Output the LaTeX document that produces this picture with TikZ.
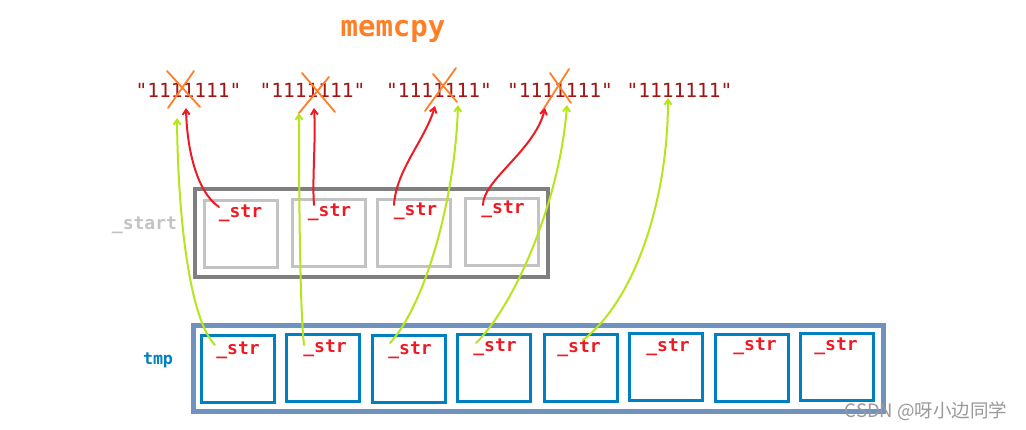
\documentclass[tikz,border=0pt]{standalone}
\usepackage{fontspec}
\setmonofont{DejaVu Sans Mono}
\newfontfamily\cjkwm{Noto Sans CJK SC}
\usetikzlibrary{arrows.meta}
\definecolor{strred}{HTML}{ED1C24}
\definecolor{darkred}{HTML}{A31515}
\definecolor{orng}{HTML}{FF7F27}
\definecolor{lime}{HTML}{B5E61D}
\definecolor{gin}{HTML}{C3C3C3}
\definecolor{gout}{HTML}{7F7F7F}
\definecolor{bin}{HTML}{0080C0}
\definecolor{bout}{HTML}{7092BE}
\tikzset{
  strlbl/.style={anchor=base, inner sep=0pt, text=strred, font=\ttfamily\bfseries\fontsize{18pt}{18pt}\selectfont},
  onestr/.style={anchor=base, inner sep=0pt, text=darkred, font=\ttfamily\fontsize{19.5pt}{19.5pt}\selectfont},
  gbox/.style={draw=gin, line width=3pt, minimum width=73pt, minimum height=67pt, inner sep=0pt},
  bbox/.style={draw=bin, line width=3pt, minimum width=73pt, minimum height=67pt, inner sep=0pt},
  redarr/.style={draw=strred, line width=2pt, line cap=round, -{Straight Barb[length=5pt,width=7pt]}},
  grnarr/.style={draw=lime, line width=2pt, line cap=round, -{Straight Barb[length=5pt,width=7pt]}},
  cross/.style={draw=orng, line width=1.8pt, line cap=round},
}
\begin{document}
\begin{tikzpicture}[x=1pt,y=-1pt]
\useasboundingbox[fill=white] (0,0) rectangle (1026,430);

% title
\node[anchor=base, inner sep=0pt, text=orng, font=\ttfamily\bfseries\fontsize{29pt}{29pt}\selectfont] (title) at (393,37) {memcpy};

% strings
\node[onestr] (s1) at (188.5,98) {"1111111"};
\node[onestr] (s2) at (312.5,98) {"1111111"};
\node[onestr] (s3) at (439,98) {"1111111"};
\node[onestr] (s4) at (560,98) {"1111111"};
\node[onestr] (s5) at (679.5,98) {"1111111"};

% _start array
\node[draw=gout, line width=4.5pt, minimum width=353pt, minimum height=88pt, inner sep=0pt] (start) at (371.5,233) {};
\node[gbox] (g1) at (241,234) {};
\node[gbox] (g2) at (329,233.5) {};
\node[gbox] (g3) at (414,233.5) {};
\node[gbox] (g4) at (501.5,232) {};
\node[strlbl] (gs1) at (240.5,218) {\_str};
\node[strlbl] (gs2) at (329.5,217) {\_str};
\node[strlbl] (gs3) at (415.5,216) {\_str};
\node[strlbl] (gs4) at (503,214) {\_str};
\node[anchor=base, inner sep=0pt, text=gin, font=\ttfamily\bfseries\fontsize{18pt}{18pt}\selectfont] (startlbl) at (144.5,230) {\_start};

% tmp array
\node[draw=bout, line width=5pt, minimum width=690pt, minimum height=86pt, inner sep=0pt] (tmp) at (538.5,368.5) {};
\node[bbox] (b1) at (238,369) {};
\node[bbox] (b2) at (323,368) {};
\node[bbox] (b3) at (408.5,369) {};
\node[bbox] (b4) at (493.5,368) {};
\node[bbox] (b5) at (580.5,368) {};
\node[bbox] (b6) at (666,367) {};
\node[bbox] (b7) at (752,368) {};
\node[bbox] (b8) at (837,367) {};
\node[strlbl] (bs1) at (238,355) {\_str};
\node[strlbl] (bs2) at (325,353) {\_str};
\node[strlbl] (bs3) at (410,355) {\_str};
\node[strlbl] (bs4) at (495,352) {\_str};
\node[strlbl] (bs5) at (579,353) {\_str};
\node[strlbl] (bs6) at (668,352) {\_str};
\node[strlbl] (bs7) at (755,351) {\_str};
\node[strlbl] (bs8) at (836,351) {\_str};
\node[anchor=base, inner sep=0pt, text=bin, font=\ttfamily\bfseries\fontsize{16.6pt}{16.6pt}\selectfont] (tmplbl) at (158,365) {tmp};

% crosses over the old strings
\draw[cross] (167,71) -- (200,107) (194,71) -- (168,108);
\draw[cross] (302,73) -- (335,112) (329,77) -- (299,113);
\draw[cross] (433,74) -- (457,102) (456,68) -- (425,111);
\draw[cross] (550,73) -- (571,103) (569,69) -- (541,113);

% connector end points
\coordinate (r1t) at (219,207); \coordinate (r1h) at (186,108);
\coordinate (r2t) at (314,205); \coordinate (r2h) at (314,108);
\coordinate (r3t) at (394,205); \coordinate (r3h) at (435,106);
\coordinate (r4t) at (483,205); \coordinate (r4h) at (545,108);
\coordinate (q1t) at (215,345); \coordinate (q1h) at (177,118);
\coordinate (q2t) at (304,345); \coordinate (q2h) at (299,113);
\coordinate (q3t) at (390,343); \coordinate (q3h) at (458,105);
\coordinate (q4t) at (476,343); \coordinate (q4h) at (567,105);
\coordinate (q5t) at (583,340); \coordinate (q5h) at (668,98);

% red arrows (_start -> strings)
\draw[redarr] (r1t) .. controls (197,192) and (187,150) .. (r1h);
\draw[redarr] (r2t) .. controls (312,180) and (316,140) .. (r2h);
\draw[redarr] (r3t) .. controls (396,170) and (425,140) .. (r3h);
\draw[redarr] (r4t) .. controls (483,180) and (535,150) .. (r4h);

% green arrows (tmp -> strings)
\draw[grnarr] (q1t) .. controls (190,320) and (178,220) .. (q1h);
\draw[grnarr] (q2t) .. controls (300,310) and (299,200) .. (q2h);
\draw[grnarr] (q3t) .. controls (425,305) and (455,200) .. (q3h);
\draw[grnarr] (q4t) .. controls (515,305) and (560,200) .. (q4h);
\draw[grnarr] (q5t) .. controls (635,300) and (668,200) .. (q5h);

% watermark
\node[anchor=center, inner sep=0pt, text=black!40, font=\cjkwm\fontsize{18.5pt}{18.5pt}\selectfont] (wm) at (926,411) {CSDN @呀小边同学};
\end{tikzpicture}
\end{document}
